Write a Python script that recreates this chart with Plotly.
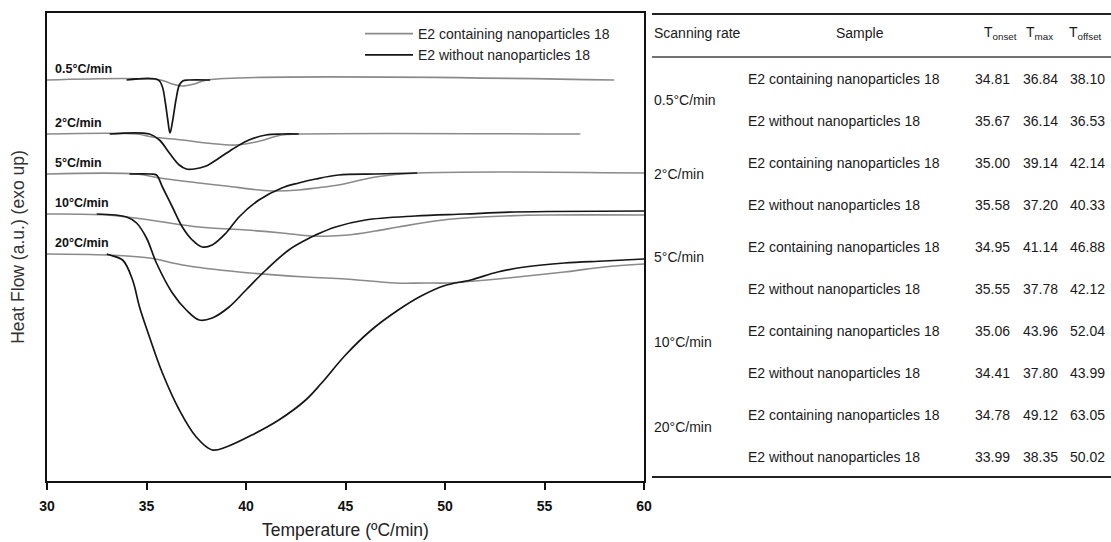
import plotly.graph_objects as go

# ---------------- data ----------------
rates = ["0.5°C/min", "2°C/min", "5°C/min", "10°C/min", "20°C/min"]
name_with = "E2 containing nanoparticles 18"
name_without = "E2 without nanoparticles 18"

# Heat flow in arbitrary units (exo up), curves stacked with offsets
T_with_05 = [30, 35.7, 36.3, 36.8, 37.4, 38.05, 58.5]
HF_with_05 = [40.1, 40.1, 39.7, 39.5, 39.7, 40.1, 40.1]
T_without_05 = [34.0, 35.6, 35.8, 35.95, 36.07, 36.18, 36.32, 36.48, 36.65, 36.82, 37.1, 38.2]
HF_without_05 = [40.1, 40.1, 39.4, 37.8, 36.1, 34.8, 36.1, 38.1, 39.6, 40.0, 40.1, 40.1]

T_with_2 = [30, 34.5, 35.3, 36.8, 38.0, 39.15, 39.5, 40.5, 41.8, 42.65, 56.8]
HF_with_2 = [34.7, 34.7, 34.4, 34.1, 33.8, 33.6, 33.6, 33.9, 34.6, 34.7, 34.7]
T_without_2 = [33.15, 35.15, 35.65, 36.15, 36.65, 37.0, 37.4, 38.0, 38.65, 39.5, 40.15, 41.0, 41.8, 42.65]
HF_without_2 = [34.7, 34.7, 34.1, 32.8, 31.6, 31.2, 31.2, 31.5, 32.3, 33.4, 34.1, 34.6, 34.7, 34.7]

T_with_5 = [30, 34.5, 35.65, 37.65, 39.0, 40.65, 41.5, 42.65, 43.5, 44.65, 46.5, 48.65, 60]
HF_with_5 = [30.7, 30.7, 30.3, 29.8, 29.5, 29.1, 29.0, 29.1, 29.3, 29.6, 30.4, 30.8, 30.8]
T_without_5 = [34.15, 35.2, 35.5, 35.8, 36.3, 36.8, 37.3, 37.8, 38.3, 39.0, 39.65, 40.65, 41.8, 42.65, 43.5, 44.65, 46.5, 48.6]
HF_without_5 = [30.7, 30.7, 30.6, 29.4, 27.4, 25.4, 24.1, 23.4, 23.6, 24.8, 26.4, 28.1, 29.3, 29.8, 30.2, 30.6, 30.7, 30.8]

T_with_10 = [30, 33, 35.15, 37.65, 40, 41.8, 43.3, 44.3, 45.15, 46.5, 47.65, 49.5, 51, 53, 55.15, 60]
HF_with_10 = [26.7, 26.6, 26.1, 25.4, 25.1, 24.8, 24.5, 24.5, 24.6, 25.0, 25.4, 26.0, 26.3, 26.5, 26.6, 26.6]
T_without_10 = [32.5, 34.0, 34.5, 35.0, 35.5, 36.3, 37.0, 37.65, 38.3, 39.15, 40.0, 41.0, 42.15, 43.0, 43.5, 44.5, 46.0, 48.5, 51, 53.5, 60]
HF_without_10 = [26.7, 26.4, 25.8, 24.3, 21.8, 18.8, 17.1, 16.1, 16.3, 17.4, 19.1, 21.1, 23.1, 24.1, 24.6, 25.4, 26.1, 26.5, 26.7, 26.9, 27.0]

T_with_20 = [30, 33, 35.15, 36.8, 39.65, 43, 45, 47.5, 49, 50.15, 51.5, 52.65, 56, 58, 60]
HF_with_20 = [22.7, 22.6, 22.3, 21.6, 20.9, 20.4, 20.2, 19.8, 19.8, 19.8, 20.0, 20.2, 20.9, 21.4, 21.7]
T_without_20 = [33.0, 33.15, 33.8, 34.3, 34.65, 35.15, 35.8, 36.65, 37.5, 38.3, 39.0, 40.3, 41.65, 43.0, 43.8, 45.0, 46.3, 47.65, 48.8, 50.0, 51.3, 52.65, 54, 56, 58, 60]
HF_without_20 = [22.7, 22.6, 22.1, 20.1, 17.4, 14.4, 10.8, 7.1, 4.4, 3.1, 3.4, 4.6, 6.1, 8.1, 9.8, 12.6, 15.1, 17.1, 18.5, 19.55, 20.1, 20.9, 21.4, 21.8, 22.0, 22.2]

# Table values
table_rates = ["0.5°C/min", "2°C/min", "5°C/min", "10°C/min", "20°C/min"]
table_samples = [name_with, name_without] * 5
T_onset = ["34.81", "35.67", "35.00", "35.58", "34.95", "35.55", "35.06", "34.41", "34.78", "33.99"]
T_max = ["36.84", "36.14", "39.14", "37.20", "41.14", "37.78", "43.96", "37.80", "49.12", "38.35"]
T_offset = ["38.10", "36.53", "42.14", "40.33", "46.88", "42.12", "52.04", "43.99", "63.05", "50.02"]
table_header = ["Scanning rate", "Sample", "T<sub>onset</sub>", "T<sub>max</sub>", "T<sub>offset</sub>"]

with_curves = [(T_with_05, HF_with_05), (T_with_2, HF_with_2), (T_with_5, HF_with_5),
               (T_with_10, HF_with_10), (T_with_20, HF_with_20)]
without_curves = [(T_without_05, HF_without_05), (T_without_2, HF_without_2), (T_without_5, HF_without_5),
                  (T_without_10, HF_without_10), (T_without_20, HF_without_20)]

GRAY = "#8a8a8a"
BLACK = "#161616"
FONT = "Liberation Sans, Arial, sans-serif"

fig = go.Figure()
for i, (t, h) in enumerate(with_curves):
    fig.add_trace(go.Scatter(x=t, y=h, mode="lines", name=name_with, legendgroup="with",
                             showlegend=(i == 0), line=dict(color=GRAY, width=1.6),
                             line_shape="spline"))
for i, (t, h) in enumerate(without_curves):
    fig.add_trace(go.Scatter(x=t, y=h, mode="lines", name=name_without, legendgroup="without",
                             showlegend=(i == 0), line=dict(color=BLACK, width=1.7),
                             line_shape="spline"))

# rate labels above each baseline
for r, (t, h) in zip(rates, with_curves):
    fig.add_annotation(x=30.3, y=h[0] + 0.2, xref="x", yref="y", text=r, showarrow=False,
                       xanchor="left", yanchor="bottom",
                       font=dict(family=FONT, size=12.5, color="#111", weight="bold"))

# ---------------- layout geometry ----------------
W, H = 1111, 542
ML, MR, MT, MB = 47, 0, 13, 61
PW = W - ML - MR
PH = H - MT - MB
def px(x):
    return (x - ML) / PW
def py(y):
    return (H - MB - y) / PH

plot_right = 644

# table
tfont = dict(family=FONT, size=14, color="#1a1a1a")
fig.add_shape(type="line", xref="paper", yref="paper", x0=px(652), x1=px(1111), y0=py(14), y1=py(14),
              line=dict(color="#222", width=2))
fig.add_shape(type="line", xref="paper", yref="paper", x0=px(652), x1=px(1111), y0=py(57), y1=py(57),
              line=dict(color="#444", width=1.5))
fig.add_shape(type="line", xref="paper", yref="paper", x0=px(652), x1=px(1111), y0=py(477), y1=py(477),
              line=dict(color="#222", width=2))

header_x = [652, 860, 1000, 1039, 1085]
header_anchor = ["left", "center", "center", "center", "center"]
for txt, hx, anc in zip(table_header, header_x, header_anchor):
    fig.add_annotation(x=px(hx), y=py(33), xref="paper", yref="paper", text=txt, showarrow=False,
                       xanchor=anc, yanchor="middle", font=tfont)

row_y0, row_dy = 79, 42.0
rate_y = [100, 174, 257, 342, 427]
for r, ry in zip(table_rates, rate_y):
    fig.add_annotation(x=px(652), y=py(ry), xref="paper", yref="paper", text=r, showarrow=False,
                       xanchor="left", yanchor="middle", font=tfont)
for k in range(len(table_samples)):
    yy = py(row_y0 + k * row_dy)
    fig.add_annotation(x=px(746), y=yy, xref="paper", yref="paper", text=table_samples[k],
                       showarrow=False, xanchor="left", yanchor="middle", font=tfont)
    for val, cx in zip((T_onset[k], T_max[k], T_offset[k]), (992, 1040, 1087)):
        fig.add_annotation(x=px(cx), y=yy, xref="paper", yref="paper", text=val,
                           showarrow=False, xanchor="center", yanchor="middle", font=tfont)

fig.update_layout(
    width=W, height=H,
    margin=dict(l=ML, r=MR, t=MT, b=MB, autoexpand=False),
    paper_bgcolor="white", plot_bgcolor="white",
    font=dict(family=FONT, color="#222"),
    showlegend=True,
    legend=dict(x=px(360), y=py(18), xanchor="left", yanchor="top", bgcolor="rgba(0,0,0,0)",
                font=dict(family=FONT, size=14, color="#222"), tracegroupgap=0, itemwidth=48),
    xaxis=dict(domain=[0, px(plot_right)], range=[30, 60], tickvals=[30, 35, 40, 45, 50, 55, 60],
               automargin=False,
               showgrid=False, zeroline=False, showline=True, linecolor="#111", linewidth=2,
               mirror=True, ticks="outside", ticklen=7, tickwidth=1.5, tickcolor="#111",
               ticklabelstandoff=4,
               tickfont=dict(family=FONT, size=14, color="#111", weight="bold"),
               title=dict(text="Temperature (ºC/min)", font=dict(family=FONT, size=17.5, color="#222"),
                          standoff=11)),
    yaxis=dict(range=[0, 46.8], showgrid=False, zeroline=False, showline=True, linecolor="#111",
               automargin=False,
               linewidth=2, mirror=True, showticklabels=False, ticks="",
               title=dict(text="Heat Flow (a.u.) (exo up)", font=dict(family=FONT, size=17.5, color="#333"),
                          standoff=16)),
)

fig.write_html("out.html", config={"displayModeBar": False},
               post_script="document.body.style.margin='0px';document.body.style.overflow='hidden';")
